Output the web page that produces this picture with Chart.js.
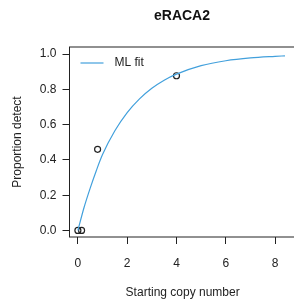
<!DOCTYPE html>
<html>
<head>
<meta charset="utf-8">
<script src="https://cdn.jsdelivr.net/npm/chart.js@4.4.1/dist/chart.umd.min.js"></script>
<style>
  html, body { margin: 0; padding: 0; background: #fff; }
  #wrap { width: 294px; height: 307px; overflow: hidden; }
</style>
</head>
<body>
<div id="wrap"><canvas id="c" width="301" height="307"></canvas></div>
<script>
// observed detection proportions
const copyNumber = [0, 0.15, 0.8, 4];
const propDetect = [0, 0, 0.46, 0.877];

// ML fit curve
const fitX = [0, 0.25, 0.5, 0.75, 1, 1.5, 2, 2.5, 3, 3.5, 4, 5, 6, 7, 8, 8.4];
const fitY = [0, 0.13, 0.24, 0.34, 0.43, 0.565, 0.668, 0.746, 0.806, 0.852, 0.886, 0.934, 0.962, 0.978, 0.987, 0.99];

const xTicks = [0, 2, 4, 6, 8];
const yTicks = [0, 0.2, 0.4, 0.6, 0.8, 1.0];

const font = "'Liberation Sans', Arial, sans-serif";
const ink = "#222";
const fitColor = "#42a0dc";

// R style box, title and legend
const boxPlugin = {
  id: "box",
  afterDraw(chart) {
    const a = chart.chartArea;
    const ctx = chart.ctx;
    ctx.save();
    ctx.strokeStyle = ink;
    ctx.lineWidth = 1;
    ctx.strokeRect(a.left, a.top, a.right - a.left, a.bottom - a.top);

    ctx.fillStyle = "#111";
    ctx.font = "bold 14px " + font;
    ctx.textAlign = "center";
    ctx.textBaseline = "middle";
    ctx.fillText("eRACA2", 182, 16);

    // legend
    ctx.strokeStyle = fitColor;
    ctx.lineWidth = 1.2;
    ctx.beginPath();
    ctx.moveTo(a.left + 11, a.top + 16);
    ctx.lineTo(a.left + 34, a.top + 16);
    ctx.stroke();
    ctx.fillStyle = ink;
    ctx.font = "12px " + font;
    ctx.textAlign = "left";
    ctx.fillText("ML fit", a.left + 45, a.top + 16);
    ctx.restore();
  }
};

new Chart(document.getElementById("c"), {
  type: "scatter",
  data: {
    datasets: [
      {
        label: "ML fit",
        type: "line",
        data: fitX.map((x, i) => ({ x: x, y: fitY[i] })),
        borderColor: fitColor,
        borderWidth: 1.2,
        pointRadius: 0,
        cubicInterpolationMode: "monotone",
        fill: false
      },
      {
        label: "obs",
        data: copyNumber.map((x, i) => ({ x: x, y: propDetect[i] })),
        pointRadius: 3,
        pointBorderWidth: 1.2,
        pointBorderColor: ink,
        pointBackgroundColor: "rgba(0,0,0,0)"
      }
    ]
  },
  options: {
    responsive: false,
    animation: false,
    layout: { padding: { top: 47, right: 0, bottom: 0, left: 0 } },
    plugins: {
      title: { display: false },
      legend: { display: false },
      tooltip: { enabled: false }
    },
    scales: {
      x: {
        type: "linear",
        min: -0.34,
        max: 8.84,
        afterBuildTicks: (axis) => { axis.ticks = xTicks.map(v => ({ value: v })); },
        afterFit: (axis) => { axis.height = 70; },
        ticks: {
          color: ink,
          padding: 12,
          maxRotation: 0,
          font: { family: font, size: 12 },
          callback: (v) => String(v)
        },
        grid: { drawOnChartArea: false, drawTicks: true, tickLength: 7, color: ink },
        border: { display: false },
        title: {
          display: true,
          text: "Starting copy number",
          color: ink,
          font: { family: font, size: 12 },
          padding: { top: 0, bottom: 7 }
        }
      },
      y: {
        type: "linear",
        min: -0.037,
        max: 1.04,
        afterBuildTicks: (axis) => { axis.ticks = yTicks.map(v => ({ value: v })); },
        afterFit: (axis) => { axis.width = 69.5; },
        ticks: {
          color: ink,
          padding: 6,
          font: { family: font, size: 12 },
          callback: (v) => Number(v).toFixed(1)
        },
        grid: { drawOnChartArea: false, drawTicks: true, tickLength: 7, color: ink },
        border: { display: false },
        title: {
          display: true,
          text: "Proportion detect",
          color: ink,
          font: { family: font, size: 12 },
          padding: { top: 10, bottom: 0 }
        }
      }
    }
  },
  plugins: [boxPlugin]
});
</script>
</body>
</html>
